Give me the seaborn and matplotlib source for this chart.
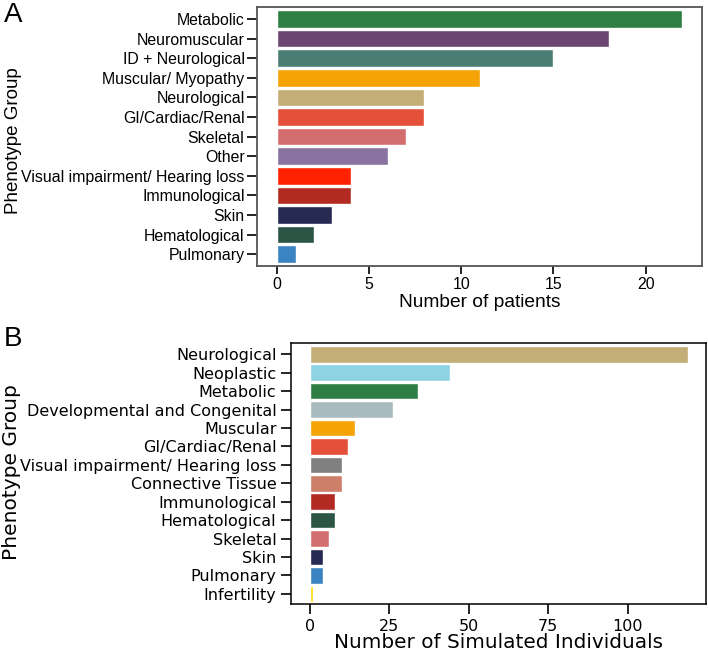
import pandas as pd
import matplotlib
matplotlib.use("Agg")
import matplotlib.pyplot as plt
import seaborn as sns

# Panel A data
groups_a = ['Metabolic', 'Neuromuscular', 'ID + Neurological', 'Muscular/ Myopathy',
            'Neurological', 'GI/Cardiac/Renal', 'Skeletal', 'Other',
            'Visual impairment/ Hearing loss', 'Immunological', 'Skin',
            'Hematological', 'Pulmonary']
counts_a = [22, 18, 15, 11, 8, 8, 7, 6, 4, 4, 3, 2, 1]
colors_a = ['#2f7f44', '#6b4673', '#4a7e74', '#f4a406', '#c4ae78', '#e4503a',
            '#d46e6e', '#8a73a0', '#ff2200', '#b22a22', '#262952', '#2b5545',
            '#3b84c4']

# Panel B data
groups_b = ['Neurological', 'Neoplastic', 'Metabolic', 'Developmental and Congenital',
            'Muscular', 'GI/Cardiac/Renal', 'Visual impairment/ Hearing loss',
            'Connective Tissue', 'Immunological', 'Hematological', 'Skeletal',
            'Skin', 'Pulmonary', 'Infertility']
counts_b = [119, 44, 34, 26, 14, 12, 10, 10, 8, 8, 6, 4, 4, 1]
colors_b = ['#c4ae78', '#8dd3e3', '#2f7f44', '#aabbbf', '#f4a406', '#e4503a',
            '#808080', '#cd7f69', '#b22a22', '#2b5545', '#d46e6e', '#262952',
            '#3b84c4', '#ffd800']

df_a = pd.DataFrame({'group': groups_a, 'n': counts_a})
df_b = pd.DataFrame({'group': groups_b, 'n': counts_b})

sns.set_style('ticks')
plt.rcParams['text.color'] = 'black'
plt.rcParams['axes.labelcolor'] = 'black'
plt.rcParams['xtick.color'] = 'black'
plt.rcParams['ytick.color'] = 'black'
plt.rcParams['font.family'] = ['DejaVu Sans']

fig = plt.figure(figsize=(7.08, 6.52), dpi=100)

# --- Panel A (Arial-like font, grey frame) ---
ax1 = fig.add_axes([0.363, 0.592, 0.6285, 0.397])
sns.barplot(data=df_a, y='group', x='n', hue='group', palette=dict(zip(groups_a, colors_a)),
            orient='h', width=0.9, saturation=1, legend=False, edgecolor='white',
            linewidth=1, ax=ax1)
ax1.set_xlim(-1.09, 23.06)
ax1.set_ylim(12.6, -0.6)
ax1.set_xticks([0, 5, 10, 15, 20])
for s in ax1.spines.values():
    s.set_color('#555555')
    s.set_linewidth(1.3)
ax1.tick_params(axis='y', length=7, width=1.2, pad=2)
ax1.tick_params(axis='x', length=6, width=1.2, pad=2)
for lab in ax1.get_yticklabels() + ax1.get_xticklabels():
    lab.set_fontfamily('Liberation Sans')
    lab.set_fontsize(11.4)
ax1.set_xlabel('Number of patients', fontsize=13.8, family='Liberation Sans', labelpad=1)
ax1.set_ylabel('Phenotype Group', fontsize=13.5, family='Liberation Sans')
ax1.yaxis.set_label_coords(-0.528, 0.486)
fig.text(0.006, 0.997, 'A', fontsize=20, family='Liberation Sans', va='top')

# --- Panel B (DejaVu font, black frame) ---
ax2 = fig.add_axes([0.411, 0.0736, 0.586, 0.400])
sns.barplot(data=df_b, y='group', x='n', hue='group', palette=dict(zip(groups_b, colors_b)),
            orient='h', width=0.9, saturation=1, legend=False, edgecolor='white',
            linewidth=1, ax=ax2)
ax2.set_xlim(-6, 124.6)
ax2.set_ylim(13.55, -0.6)
ax2.set_xticks([0, 25, 50, 75, 100])
for s in ax2.spines.values():
    s.set_color('black')
    s.set_linewidth(1.1)
ax2.tick_params(axis='both', length=7, width=1.2, labelsize=11.5)
ax2.set_xlabel('Number of Simulated Individuals', fontsize=14.4, labelpad=-0.5)
ax2.set_ylabel('Phenotype Group', fontsize=14.5)
ax2.yaxis.set_label_coords(-0.650, 0.506)
fig.text(0.006, 0.500, 'B', fontsize=20, family='Liberation Sans', va='top')

fig.savefig('out.png', dpi=100)
